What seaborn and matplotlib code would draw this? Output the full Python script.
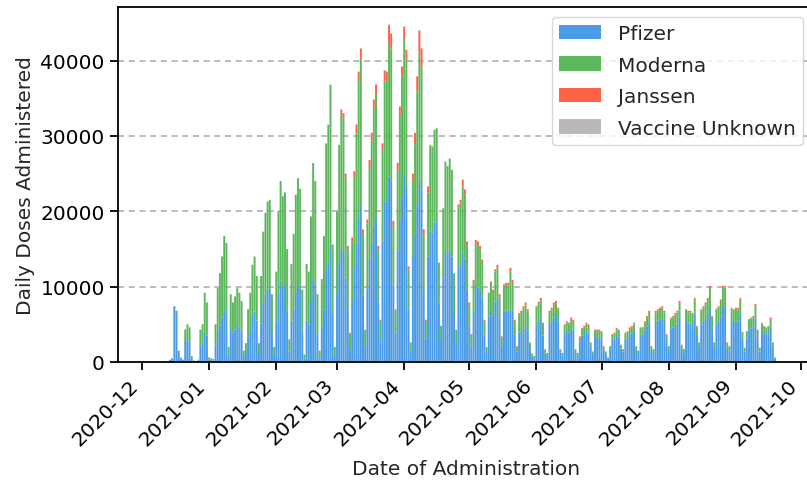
import numpy as np
import pandas as pd
import matplotlib
matplotlib.use("Agg")
import matplotlib.pyplot as plt
import matplotlib.dates as mdates
import seaborn as sns

# Daily doses by manufacturer, one row per week (Mon..Sun), starting 2020-12-14
start_date = "2020-12-14"

pfizer = [
    300, 500, 7400, 6800, 1500, 600, 300,
    2800, 2900, 2700, 500, 150, 80, 200,
    2200, 2400, 3900, 3500, 350, 300, 250,
    2300, 4100, 5000, 5900, 7000, 6600, 900,
    4500, 3900, 4300, 4900, 4600, 4000, 800,
    1300, 3400, 4400, 6200, 6700, 5500, 1200,
    5100, 7800, 8900, 9600, 9700, 4000, 900,
    5400, 9000, 10800, 9900, 10100, 6800, 1400,
    5500, 7100, 9300, 10200, 9700, 4000, 400,
    5500, 5000, 8100, 11100, 10100, 3800, 600,
    4600, 7000, 12200, 13200, 15500, 6600, 800,
    9000, 13000, 15000, 14800, 11200, 6900, 1700,
    8200, 12600, 15700, 19200, 20800, 8800, 2100,
    9800, 13900, 15800, 18100, 19100, 8000, 2900,
    16000, 21300, 21200, 24600, 24000, 10300, 3900,
    14800, 19000, 22000, 24900, 23200, 7100, 1500,
    13800, 16700, 20800, 24200, 22900, 9700, 3100,
    14000, 17300, 17200, 18500, 18600, 7900, 2900,
    11200, 14600, 14300, 14900, 14000, 6500, 2400,
    12500, 12900, 14500, 13700, 9600, 4700, 2200,
    6800, 10000, 9900, 9500, 8400, 3500, 1300,
    6000, 7000, 6200, 8000, 8400, 5900, 2200,
    6700, 6800, 6800, 7000, 6800, 3600, 1400,
    3900, 4100, 4400, 4800, 4200, 1600, 700,
    500, 4800, 5400, 5800, 3500, 1100, 800,
    5100, 5400, 5900, 6100, 5400, 1300, 900,
    3700, 4000, 3900, 4400, 4200, 1300, 900,
    2700, 3500, 3700, 4000, 3900, 2000, 1100,
    3300, 3300, 3300, 3200, 1600, 1100, 500,
    1700, 3000, 3100, 3600, 3400, 1800, 1400,
    3100, 3300, 3700, 3800, 4100, 1700, 1200,
    3600, 3600, 4200, 4700, 5200, 1600, 1300,
    5300, 5500, 5600, 5800, 5300, 2900, 1600,
    4400, 4600, 4900, 5100, 6000, 1700, 1300,
    5300, 5100, 5100, 4900, 6400, 3600, 2000,
    5000, 5300, 5700, 6100, 7300, 4400, 1900,
    5100, 5300, 6000, 7300, 7300, 1900, 1500,
    5400, 5300, 5400, 5400, 6400, 3000, 1400,
    3100, 4300, 4400, 4600, 5800, 3200, 1400,
    4200, 3800, 3700, 3800, 4700, 2100, 500,
]

moderna = [
    0, 0, 0, 0, 0, 0, 0,
    1500, 2100, 1900, 300, 50, 20, 100,
    2100, 2600, 5300, 4400, 250, 200, 150,
    2700, 5700, 6800, 8100, 9700, 9200, 1100,
    4500, 4000, 4400, 4900, 4600, 4100, 700,
    1200, 3600, 4800, 6700, 7300, 5900, 1300,
    6300, 9500, 10900, 11700, 11800, 5000, 1100,
    6600, 11000, 13200, 12100, 12400, 8200, 1600,
    7500, 9900, 12900, 14200, 13300, 5600, 600,
    7500, 7000, 11200, 15300, 13900, 5200, 900,
    6400, 9700, 16800, 18300, 21300, 9000, 1200,
    11000, 15800, 17900, 17500, 13300, 8200, 2100,
    7800, 11800, 14600, 18000, 19300, 8200, 2100,
    8600, 12000, 13600, 15500, 16400, 6900, 2500,
    12100, 15900, 16100, 17600, 17600, 7700, 2900,
    10800, 13800, 15900, 17800, 16800, 5200, 1000,
    10200, 12200, 15100, 16800, 16200, 7100, 2300,
    8500, 11400, 11400, 12300, 12400, 5300, 1900,
    9200, 12000, 11700, 12100, 11500, 5200, 1900,
    8000, 8100, 8800, 8500, 5900, 2900, 1400,
    3800, 5700, 5500, 5400, 4600, 1900, 600,
    3000, 3500, 3100, 4000, 4100, 2800, 1100,
    3400, 3400, 3400, 5000, 3700, 1800, 600,
    2400, 2400, 2700, 2700, 2500, 900, 400,
    300, 2400, 2400, 2400, 1500, 500, 400,
    1500, 1600, 1700, 1700, 1600, 300, 300,
    1200, 1200, 1100, 1200, 1200, 300, 300,
    600, 900, 900, 1000, 900, 500, 300,
    900, 800, 800, 800, 400, 300, 100,
    400, 600, 700, 700, 800, 400, 300,
    700, 700, 700, 800, 900, 400, 300,
    900, 900, 1000, 1200, 1300, 400, 400,
    1300, 1300, 1300, 1400, 1300, 700, 500,
    1400, 1300, 1400, 1500, 1800, 500, 400,
    1600, 1500, 1500, 1400, 1900, 1100, 600,
    1800, 1900, 2000, 2100, 2500, 1600, 700,
    1900, 1900, 2100, 2600, 2600, 600, 600,
    1700, 1600, 1600, 1600, 1900, 900, 500,
    900, 1300, 1400, 1300, 1700, 1000, 500,
    900, 900, 800, 900, 1000, 500, 100,
]

janssen = [0] * 77 + [
    0, 0, 600, 700, 500, 300, 100,
    500, 900, 1200, 1300, 1500, 600, 100,
    500, 900, 1000, 1200, 1300, 500, 200,
    900, 1500, 1200, 2500, 2000, 700, 200,
    800, 1100, 1300, 1800, 1400, 400, 100,
    1000, 1500, 2000, 3000, 2500, 800, 200,
    800, 100, 0, 0, 0, 0, 0,
    0, 0, 0, 0, 0, 100, 0,
    400, 500, 900, 700, 500, 300, 100,
    300, 500, 600, 500, 600, 200, 100,
    200, 200, 300, 300, 400, 300, 100,
    200, 300, 300, 500, 400, 200, 100,
    200, 300, 300, 400, 300, 100, 0,
    0, 200, 200, 300, 200, 100, 0,
    200, 200, 300, 300, 200, 100, 0,
    100, 200, 200, 300, 200, 100, 0,
    100, 100, 200, 200, 200, 100, 0,
    100, 200, 200, 100, 100, 0, 0,
    0, 100, 100, 200, 100, 100, 0,
    100, 100, 200, 200, 200, 0, 0,
    100, 100, 200, 200, 300, 100, 0,
    200, 200, 300, 200, 200, 100, 0,
    100, 200, 200, 200, 300, 100, 0,
    100, 200, 200, 200, 200, 100, 0,
    200, 200, 200, 300, 300, 100, 0,
    100, 200, 200, 200, 200, 100, 0,
    100, 100, 200, 200, 200, 100, 0,
    100, 100, 100, 200, 200, 100, 0,
    100, 100, 100, 100, 200, 0, 0,
]

unknown = [0] * 84 + [
    20, 30, 40, 40, 30, 10, 0,
    20, 30, 40, 50, 40, 10, 0,
    30, 40, 40, 50, 50, 20, 0,
    30, 40, 50, 60, 50, 20, 0,
] + [0] * 168

series_names = ["Pfizer", "Moderna", "Janssen", "Vaccine Unknown"]
series_colors = ["#4a9be3", "#5cb85c", "#ff6347", "#b8b8b8"]

dates = pd.date_range(start_date, periods=len(pfizer), freq="D")
df = pd.DataFrame({
    "Pfizer": pfizer,
    "Moderna": moderna,
    "Janssen": janssen,
    "Vaccine Unknown": unknown,
}, index=dates)

sns.set_theme(style="ticks")
plt.rcParams["font.family"] = ["DejaVu Sans"]

FS = 14.5

fig = plt.figure(figsize=(8.07, 4.89), dpi=100)
ax = fig.add_axes([118 / 807, 1 - 363 / 489, (814 - 118) / 807, (363 - 8) / 489])

bottom = np.zeros(len(df))
for name, color in zip(series_names, series_colors):
    ax.bar(df.index, df[name].values, bottom=bottom, width=0.9,
           color=color, label=name, linewidth=0, snap=False)
    bottom += df[name].values

ax.set_xlim(pd.Timestamp("2020-11-20"), pd.Timestamp("2021-10-07"))
ax.set_ylim(0, 47100)
ax.set_yticks([0, 10000, 20000, 30000, 40000])

ax.xaxis.set_major_locator(mdates.MonthLocator())
ax.xaxis.set_major_formatter(mdates.DateFormatter("%Y-%m"))
plt.setp(ax.get_xticklabels(), rotation=45, ha="right")

ax.set_axisbelow(True)
ax.yaxis.grid(True, linestyle=(0, (4, 3)), color="#a8a8a8", linewidth=1.1)
ax.xaxis.grid(False)

for side in ["left", "bottom", "top", "right"]:
    ax.spines[side].set_color("black")
    ax.spines[side].set_linewidth(1.3)

ax.tick_params(axis="both", labelsize=FS, length=6, width=1.3, colors="black")
ax.set_xlabel("Date of Administration", fontsize=FS, labelpad=8)
ax.set_ylabel("Daily Doses Administered", fontsize=FS)

ax.legend(loc="upper right", bbox_to_anchor=(803 / 807, 1 - 18 / 489),
          bbox_transform=fig.transFigure, borderaxespad=0,
          fontsize=FS, frameon=True, framealpha=0.8,
          edgecolor="#cccccc", fancybox=True, borderpad=0.35,
          handlelength=2.07, handleheight=0.75, handletextpad=0.85,
          labelspacing=0.62)

fig.savefig("out.png", dpi=100)
